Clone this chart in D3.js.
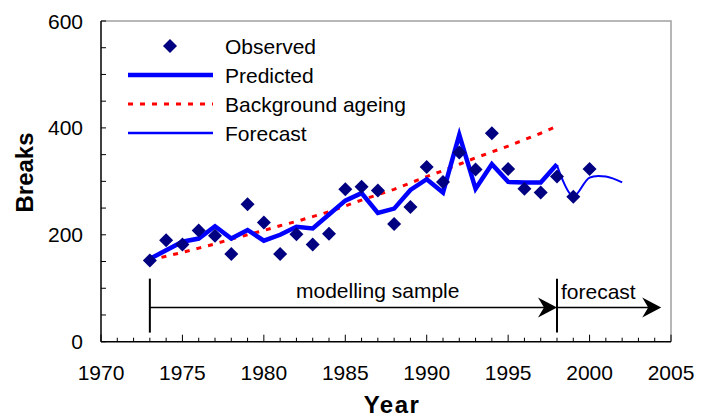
<!DOCTYPE html>
<html>
<head>
<meta charset="utf-8">
<script src="https://cdn.jsdelivr.net/npm/d3@7"></script>
<style>
  body { margin: 0; background: #fff; }
  svg text { font-family: "Liberation Sans", Arial, sans-serif; fill: #000; }
</style>
</head>
<body>
<div id="chart"></div>
<script>
// data
var obsYears = [1973,1974,1975,1976,1977,1978,1979,1980,1981,1982,1983,1984,1985,1986,1987,1988,1989,1990,1991,1992,1993,1994,1995,1996,1997,1998,1999,2000]
var observed = [152,190,182,208,198,164,257,223,164,201,182,202,285,290,283,220,252,327,299,354,322,390,323,286,279,309,271,323]

var predYears = [1973,1974,1975,1976,1977,1978,1979,1980,1981,1982,1983,1984,1985,1986,1987,1988,1989,1990,1991,1992,1993,1994,1995,1996,1997,1998]
var predicted = [155,171,187,193,216,193,209,189,200,215,212,238,264,278,241,249,284,304,279,387,286,332,299,298,298,332]
var ageing = [152,160,167,175,183,192,200,208,217,225,234,243,254,265,275,285,297,309,320,332,344,355,366,378,390,403]

var fcYears = [1998,1999,2000,2001,2002]
var forecast = [330,272,307,309,298]

var yLabels = [0,200,400,600]
var xLabels = [1970,1975,1980,1985,1990,1995,2000,2005]

var legendItems = ["Observed","Predicted","Background ageing","Forecast"]

// annotation (data units)
var sampleStart = 1973, sampleEnd = 1998, fcEnd = 2004.4
var arrowLevel = 64

var W = 711, H = 419
var margin = {left: 101, top: 21, right: 40, bottom: 77}
var width = 671 - margin.left, height = 341.7 - margin.top

var svg = d3.select("#chart").append("svg")
  .attr("width", W).attr("height", H)

var g = svg.append("g")
  .attr("transform", "translate(" + margin.left + "," + margin.top + ")")

var x = d3.scaleLinear().domain([1970, 2005]).range([0, width])
var y = d3.scaleLinear().domain([0, 600]).range([height, 0])

// frame top / right in grey
g.append("path")
  .attr("d", "M0,0H" + width + "V" + height)
  .attr("fill", "none").attr("stroke", "#a0a0a0").attr("stroke-width", 1.5)

// y axis ticks (inside), labels every 200
var yAxis = g.append("g")
yAxis.append("line").attr("x1", 0).attr("x2", 0).attr("y1", 0).attr("y2", height)
  .attr("stroke", "#000").attr("stroke-width", 1.5)
yAxis.selectAll(".yt").data(d3.range(0, 601, 50)).enter().append("line")
  .attr("x1", 0).attr("x2", 5)
  .attr("y1", function(d) { return y(d) }).attr("y2", function(d) { return y(d) })
  .attr("stroke", "#000")
yAxis.selectAll(".yl").data(yLabels).enter().append("text")
  .attr("x", -18).attr("y", function(d) { return y(d) }).attr("dy", "0.36em")
  .attr("text-anchor", "end").style("font-size", "21px")
  .text(function(d) { return d })

// x axis ticks (inside), every year, longer every 5
var xAxis = g.append("g").attr("transform", "translate(0," + height + ")")
xAxis.append("line").attr("x1", 0).attr("x2", width)
  .attr("stroke", "#000").attr("stroke-width", 1.5)
xAxis.selectAll(".xt").data(d3.range(1970, 2006)).enter().append("line")
  .attr("x1", function(d) { return x(d) }).attr("x2", function(d) { return x(d) })
  .attr("y1", 0).attr("y2", function(d) { return d % 5 == 0 ? -7 : -4 })
  .attr("stroke", "#000")
xAxis.selectAll(".xl").data(xLabels).enter().append("text")
  .attr("x", function(d) { return x(d) }).attr("y", 38)
  .attr("text-anchor", "middle").style("font-size", "21px")
  .text(function(d) { return d })

// axis titles
svg.append("text").attr("x", 392).attr("y", 413)
  .attr("text-anchor", "middle").style("font-size", "24px").style("font-weight", "bold")
  .style("letter-spacing", "1.5px")
  .text("Year")
svg.append("text").attr("transform", "translate(32.5,172.5) rotate(-90)")
  .attr("text-anchor", "middle").style("font-size", "24px").style("font-weight", "bold")
  .text("Breaks")

// background ageing
var line = d3.line().x(function(d) { return x(d[0]) }).y(function(d) { return y(d[1]) })
g.append("path")
  .datum(d3.zip(predYears, ageing))
  .attr("d", line)
  .attr("fill", "none").attr("stroke", "#ff0000").attr("stroke-width", 3)
  .attr("stroke-dasharray", "5,7")

// predicted
g.append("path")
  .datum(d3.zip(predYears, predicted))
  .attr("d", line)
  .attr("fill", "none").attr("stroke", "#0000ff").attr("stroke-width", 4.5)
  .attr("stroke-linejoin", "miter")

// forecast (smoothed)
g.append("path")
  .datum(d3.zip(fcYears, forecast))
  .attr("d", line.curve(d3.curveCatmullRom.alpha(0.5)))
  .attr("fill", "none").attr("stroke", "#0000ff").attr("stroke-width", 2)
line.curve(d3.curveLinear)

// observed diamonds
var diamond = "M0,-7L7,0L0,7L-7,0Z"
g.selectAll(".obs").data(d3.zip(obsYears, observed)).enter().append("path")
  .attr("d", diamond)
  .attr("transform", function(d) { return "translate(" + x(d[0]) + "," + y(d[1]) + ")" })
  .attr("fill", "#000080")

// modelling sample / forecast arrows
var ay = y(arrowLevel)
function arrowHead(px) {
  return "M" + px + "," + ay + "L" + (px - 19) + "," + (ay - 10) +
    "L" + (px - 13) + "," + ay + "L" + (px - 19) + "," + (ay + 10) + "Z"
}
;[sampleStart, sampleEnd].forEach(function(yr) {
  g.append("line").attr("x1", x(yr)).attr("x2", x(yr))
    .attr("y1", y(118)).attr("y2", y(17))
    .attr("stroke", "#000").attr("stroke-width", 2)
})
g.append("line").attr("x1", x(sampleStart)).attr("x2", x(sampleEnd) - 10)
  .attr("y1", ay).attr("y2", ay).attr("stroke", "#000").attr("stroke-width", 1.5)
g.append("path").attr("d", arrowHead(x(sampleEnd))).attr("fill", "#000")
g.append("line").attr("x1", x(sampleEnd)).attr("x2", x(fcEnd) - 10)
  .attr("y1", ay).attr("y2", ay).attr("stroke", "#000").attr("stroke-width", 1.5)
g.append("path").attr("d", arrowHead(x(fcEnd))).attr("fill", "#000")

g.append("text").attr("x", 296 - margin.left).attr("y", 298 - margin.top)
  .style("font-size", "21px").text("modelling sample")
g.append("text").attr("x", 561 - margin.left).attr("y", 299 - margin.top)
  .style("font-size", "21px").text("forecast")

// legend
var legend = svg.selectAll(".legend").data(legendItems).enter().append("g")
  .attr("class", "legend")
  .attr("transform", function(d, i) { return "translate(0," + (46 + i * 29) + ")" })
legend.append("text").attr("x", 225).attr("y", 0).attr("dy", "0.36em")
  .style("font-size", "21px").text(function(d) { return d })
legend.each(function(d, i) {
  var l = d3.select(this)
  if (i == 0) {
    l.append("path").attr("d", diamond).attr("transform", "translate(170,0)").attr("fill", "#000080")
  } else {
    l.append("line").attr("x1", 128).attr("x2", 213).attr("y1", 0).attr("y2", 0)
      .attr("stroke", i == 2 ? "#ff0000" : "#0000ff")
      .attr("stroke-width", i == 1 ? 4.5 : (i == 2 ? 3 : 2.3))
      .attr("stroke-dasharray", i == 2 ? "5,7" : null)
  }
})
</script>
</body>
</html>
